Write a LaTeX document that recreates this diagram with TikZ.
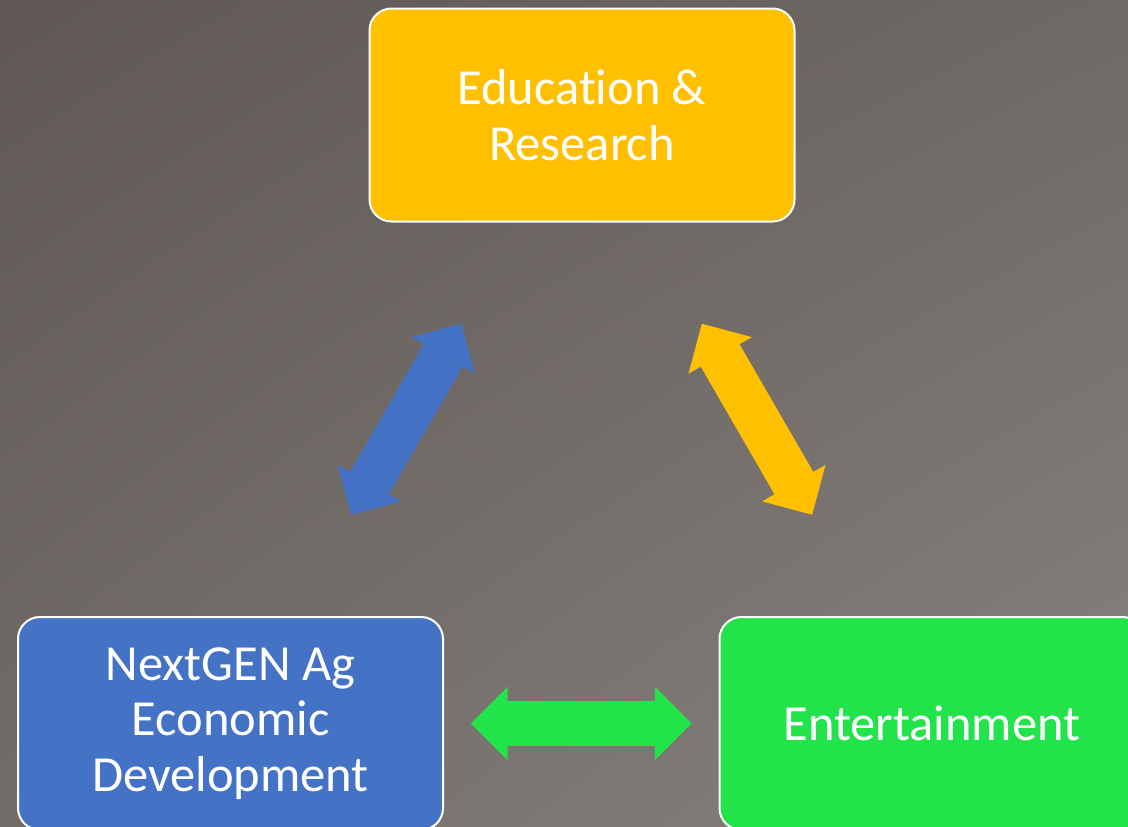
\documentclass[tikz,border=0pt]{standalone}
\usepackage{fontspec}
\setmainfont[Ligatures=NoCommon]{Carlito}
\usetikzlibrary{calc,shadings}
\definecolor{eduyellow}{HTML}{FFC000}
\definecolor{agblue}{HTML}{4472C4}
\definecolor{entgreen}{HTML}{23E34B}
\definecolor{bgtl}{RGB}{95,88,85}
\definecolor{bgtr}{RGB}{111,105,102}
\definecolor{bgbl}{RGB}{114,108,105}
\definecolor{bgbr}{RGB}{137,131,128}
\tikzset{
  box/.style={draw=white, line width=2pt, rounded corners=22pt,
    minimum width=425pt, minimum height=213pt, inner sep=0pt,
    text=white, align=center, font=\fontsize{50.5}{55.5}\selectfont},
  pics/dblarrow/.style={code={
    \fill[#1] (-110.3,0) -- (-73.7,36.6) -- (-73.7,22.4) -- (73.7,22.4)
      -- (73.7,36.6) -- (110.3,0) -- (73.7,-36.6) -- (73.7,-22.4)
      -- (-73.7,-22.4) -- (-73.7,-36.6) -- cycle;}}
}
\begin{document}
\begin{tikzpicture}[x=1pt, y=-1pt]
\useasboundingbox (0,0) rectangle (1128,827);
\clip (0,0) rectangle (1128,827);
\shade[upper left=bgtl, upper right=bgtr, lower left=bgbl, lower right=bgbr]
  (0,0) rectangle (1128,827);
\node[box, fill=eduyellow] (edu) at (582,115) {Education \&\\Research};
\node[box, fill=agblue] (ag) at (230.5,723.5) {NextGEN Ag\\Economic\\Development};
\node[box, fill=entgreen] (ent) at (932,723.5) {Entertainment};
\pic[rotate=60] at ($(ag.center)!0.5!(edu.center)$) {dblarrow=agblue};
\pic[rotate=-60] at ($(edu.center)!0.5!(ent.center)$) {dblarrow=eduyellow};
\pic at ($(ag.center)!0.5!(ent.center)$) {dblarrow=entgreen};
\end{tikzpicture}
\end{document}
